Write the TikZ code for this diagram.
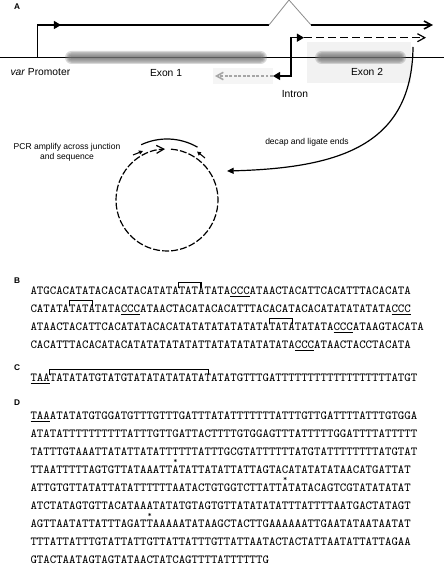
\documentclass[tikz,border=0pt]{standalone}
\usepackage{fontspec}
\setmainfont{Liberation Sans}
\usetikzlibrary{arrows.meta}

% marked base: asterisk set over the letter
\newcommand{\starred}[1]{\makebox[0pt][l]{\makebox[0.525em][c]{\smash{\raisebox{0.74em}{\fontsize{6}{6}\selectfont *}}}}#1}

\tikzset{every picture/.style={line width=0.75pt}}
\tikzset{
  lbl/.style={inner sep=0pt, font=\fontsize{7.7}{9.2}\selectfont},
  note/.style={inner sep=0pt, align=center, font=\fontsize{6.4}{7.6}\selectfont},
  panel/.style={inner sep=0pt, font=\fontsize{6.2}{7}\selectfont\bfseries},
  seq/.style={anchor=base west, inner sep=0pt, font=\fontsize{9.21}{11}\ttfamily},
  brk/.style={line width=0.9pt},
  exonfill/.style={fill=black!55, fill opacity=0.28},
  fillhead/.style={-{Triangle[length=5.3pt,width=6pt]}},
  barb/.style={-{Straight Barb[length=5.5pt,width=6pt]}},
}

\begin{document}
\begin{tikzpicture}[x=0.75pt,y=0.75pt,yscale=-1,xscale=1]
\useasboundingbox (0,0) rectangle (444,580);

%Shape: Rectangle (exon 2 backdrop)
\fill [black!5] (307,42) rectangle (411,83) ;
%Shape: Rectangle (antisense backdrop)
\fill [black!4] (213,68) rectangle (273,84) ;
%Straight Lines (chromosome)
\draw (0,57.3) -- (444,57.3) ;
%Shape: blurred exon bars
\foreach \xa/\xb in {65/267,315/406}{
  \foreach \g in {0,...,4}{
    \pgfmathsetmacro\rc{(6.5-1.2*\g)*0.75}
    \fill [exonfill, rounded corners=\rc pt] ({\xa+1.2*\g},{51+1.2*\g}) rectangle ({\xb-1.2*\g},{64-1.2*\g}) ;
  }
}
%Straight Lines (var promoter)
\draw [line width=1pt, fillhead] (37.3,57.3) -- (37.3,25) -- (61,25) ;
\draw [line width=1.2pt] (58,25) -- (269,25) ;
\draw [black!45, line width=0.6pt] (269,25) -- (289,0) -- (311,25) ;
\draw [line width=1.2pt, barb] (311,25) -- (433,25) ;
%Straight Lines (intron promoter)
\draw [line width=1pt, {Triangle[length=5.3pt,width=6pt]}-{Triangle[length=5.3pt,width=6pt]}] (304,37.7) -- (291,37.7) -- (291,76) -- (273,76) ;
\draw [line width=0.9pt, dash pattern=on 6pt off 3pt, barb] (304,37.7) -- (426,37.7) ;
\draw [black!35, line width=1.2pt, dash pattern=on 2.2pt off 1.2pt, -{Straight Barb[length=5pt,width=5.5pt]}] (273,76) -- (215,76) ;

% Text Node
\node (laba) [panel] at (17,6.5) {A};
% Text Node
\node (varprom) [lbl, anchor=west] at (10,72) {\textit{var} Promoter};
% Text Node
\node (exonone) [lbl] at (166,73) {Exon 1};
% Text Node
\node (exontwo) [lbl] at (367,72) {Exon 2};
% Text Node
\node (intron) [lbl] at (295,94) {Intron};

%Curve Lines (decap and ligate)
\coordinate (ligstart) at (413,47) ;
\coordinate (ligend) at (227,171) ;
\draw [line width=0.9pt, -{Triangle[length=5pt,width=4.5pt]}] (ligstart) .. controls (412,145) and (340,168) .. (ligend) ;
% Text Node
\node (decap) [note] at (307,142) {decap and ligate ends};

%Shape: Circle (ligated transcript)
\draw [line width=0.9pt, dash pattern=on 5.2pt off 1.6pt, barb] (167,200) ++(274.5:51) arc [start angle=274.5, end angle=627.8, radius=51] ;
%Shape: Arc (product)
\draw [line width=0.9pt] (167,200) ++(245:61) arc [start angle=245, end angle=300, radius=61] ;
%Straight Lines (primers)
\draw [line width=0.8pt, -{Triangle[length=3pt,width=3pt]}] (133,155) -- (143,151) ;
\draw [line width=0.8pt, -{Triangle[length=3pt,width=3pt]}] (205,158) -- (197,151.5) ;
% Text Node
\node (pcr) [note] at (67,152) {PCR amplify across junction\\and sequence};

% Text Node
\node (labb) [panel] at (17,281) {B};
\node (b1) [seq] at (30,294) {ATGCACATATACACATACATATATATATATA\underline{CCC}ATAACTACATTCACATTTACACATA};
\node (b2) [seq] at (30,312) {CATATATATATATA\underline{CCC}ATAACTACATACACATTTACACATACACATATATATATA\underline{CCC}};
\node (b3) [seq] at (30,330) {ATAACTACATTCACATATACACATATATATATATATATATATATATA\underline{CCC}ATAAGTACATA};
\node (b4) [seq] at (30,348) {CACATTTACACATACATATATATATATTATATATATATATA\underline{CCC}ATAACTACCTACATA};
%Straight Lines (brackets)
\draw [brk] (178.8,287.5) -- (178.8,282.5) -- (201,282.5) -- (201,287.5) ;
\draw [brk] (69.2,305.5) -- (69.2,300.5) -- (92.5,300.5) -- (92.5,305.5) ;
\draw [brk] (269.2,323.5) -- (269.2,318.5) -- (292.5,318.5) -- (292.5,323.5) ;

% Text Node
\node (labc) [panel] at (17,368) {C};
\node (c1) [seq] at (30,381) {\underline{TAA}TATATATGTATGTATATATATATATATATGTTTGATTTTTTTTTTTTTTTTTTATGT};
\draw [brk] (49.8,374.5) -- (49.8,369.5) -- (208.6,369.5) -- (208.6,374.5) ;

% Text Node
\node (labd) [panel] at (17,403) {D};
\node (d1) [seq] at (30,419) {\underline{TAA}ATATATGTGGATGTTTGTTTGATTTATATTTTTTTATTTGTTGATTTTATTTGTGGA};
\node (d2) [seq] at (30,437) {ATATATTTTTTTTTTATTTGTTGATTACTTTTGTGGAGTTTATTTTTGGATTTTATTTTT};
\node (d3) [seq] at (30,455) {TATTTGTAAATTATATTATATTTTTTATTTGCGTATTTTTTATGTATTTTTTTTATGTAT};
\node (d4) [seq] at (30,473) {TTAATTTTTAGTGTTATAAATT\starred{A}TATTATATTATTAGTACATATATATAACATGATTAT};
\node (d5) [seq] at (30,491) {ATTGTGTTATATTATATTTTTTAATACTGTGGTCTTATT\starred{A}TATACAGTCGTATATATAT};
\node (d6) [seq] at (30,509) {ATCTATAGTGTTACATAAATATATGTAGTGTTATATATATTTATTTTAATGACTATAGT};
\node (d7) [seq] at (30,527) {AGTTAATATTATTTAGAT\starred{T}AAAAATATAAGCTACTTGAAAAAATTGAATATAATAATAT};
\node (d8) [seq] at (30,545) {TTTATTATTTGTATTATTGTTATTATTTGTTATTAATACTACTATTAATATTATTAGAA};
\node (d9) [seq] at (30,563) {GTACTAATAGTAGTATAACTATCAGTTTTATTTTTTG};

\end{tikzpicture}
\end{document}
